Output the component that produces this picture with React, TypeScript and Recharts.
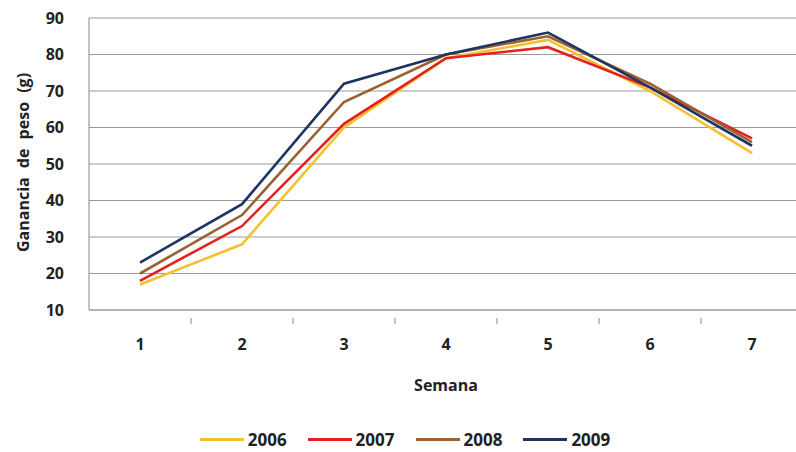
import { LineChart, Line, XAxis, YAxis, CartesianGrid, Legend } from "recharts"

// Semana 1..7
const weeks = ["1", "2", "3", "4", "5", "6", "7"]

const g2006 = [17, 28, 60, 79, 84, 70, 53]
const g2007 = [18, 33, 61, 79, 82, 71, 57]
const g2008 = [20, 36, 67, 80, 85, 72, 56]
const g2009 = [23, 39, 72, 80, 86, 71, 55]

const yTicks = [10, 20, 30, 40, 50, 60, 70, 80, 90]

const SERIES = [
    { key: "y2006", name: "2006", color: "#F2C22E", values: g2006 },
    { key: "y2007", name: "2007", color: "#E3211F", values: g2007 },
    { key: "y2008", name: "2008", color: "#9C6130", values: g2008 },
    { key: "y2009", name: "2009", color: "#1E3461", values: g2009 },
]

const FONT = "'Open Sans', 'Liberation Sans', sans-serif"
const AXIS = "#9a9a9a"
const BAND = 102

// label in the middle of the band, tick mark on the band's right edge
function WeekTick({ x, y, payload, index }: { x?: number; y?: number; payload?: { value: string }; index?: number }) {
    if (x == null || y == null) return null
    const last = index === weeks.length - 1
    return (
        <g>
            {!last && <line x1={x + BAND / 2} x2={x + BAND / 2} y1={y} y2={y + 6} stroke={AXIS} strokeWidth={1.2} />}
            <text x={x} y={y + 32} textAnchor="middle" fontSize={16} fontWeight={700} fill="#222" fontFamily={FONT}>{payload?.value}</text>
        </g>
    )
}

function LegendRow() {
    return (
        <div style={{ display: "flex", justifyContent: "center", gap: 21, paddingTop: 14, fontFamily: FONT, fontWeight: 700, fontSize: 17, color: "#222" }}>
            {SERIES.map(s => (
                <div key={s.key} style={{ display: "flex", alignItems: "center", gap: 4 }}>
                    <div style={{ width: 44, height: 3, background: s.color }} />
                    <span>{s.name}</span>
                </div>
            ))}
        </div>
    )
}

export default function App() {
    const data = weeks.map((w, i) => {
        const row: Record<string, string | number> = { week: w }
        SERIES.forEach(s => { row[s.key] = s.values[i] })
        return row
    })

    return (
        <div style={{ position: "absolute", left: 0, top: 0, width: 796, height: 452, overflow: "hidden", background: "#fff" }}>
            <LineChart width={810} height={452} data={data} margin={{ top: 18, right: 7, left: 39, bottom: 0 }}>
                <CartesianGrid vertical={false} stroke={AXIS} strokeWidth={1.2} />
                <XAxis
                    dataKey="week"
                    scale="band"
                    height={104}
                    stroke={AXIS}
                    strokeWidth={1.2}
                    tickLine={false}
                    tick={<WeekTick />}
                    interval={0}
                    label={{ value: "Semana", position: "insideTop", dy: 65, style: { fontSize: 16, fontWeight: 700, fill: "#222", fontFamily: FONT } }}
                />
                <YAxis
                    domain={[10, 90]}
                    ticks={yTicks}
                    width={50}
                    stroke={AXIS}
                    strokeWidth={1.2}
                    tickLine={false}
                    tickMargin={19}
                    tick={{ fontSize: 16, fontWeight: 700, fill: "#222", fontFamily: FONT }}
                    label={{ value: "Ganancia de peso (g)", angle: -90, position: "insideLeft", dx: -21, dy: 88, style: { fontSize: 16, fontWeight: 700, fill: "#222", fontFamily: FONT, wordSpacing: 5 } }}
                />
                <Legend verticalAlign="bottom" height={38} wrapperStyle={{ left: 0, width: 810 }} content={<LegendRow />} />
                {SERIES.map(s => (
                    <Line key={s.key} dataKey={s.key} name={s.name} stroke={s.color} strokeWidth={2.6} dot={false} isAnimationActive={false} />
                ))}
            </LineChart>
        </div>
    )
}
